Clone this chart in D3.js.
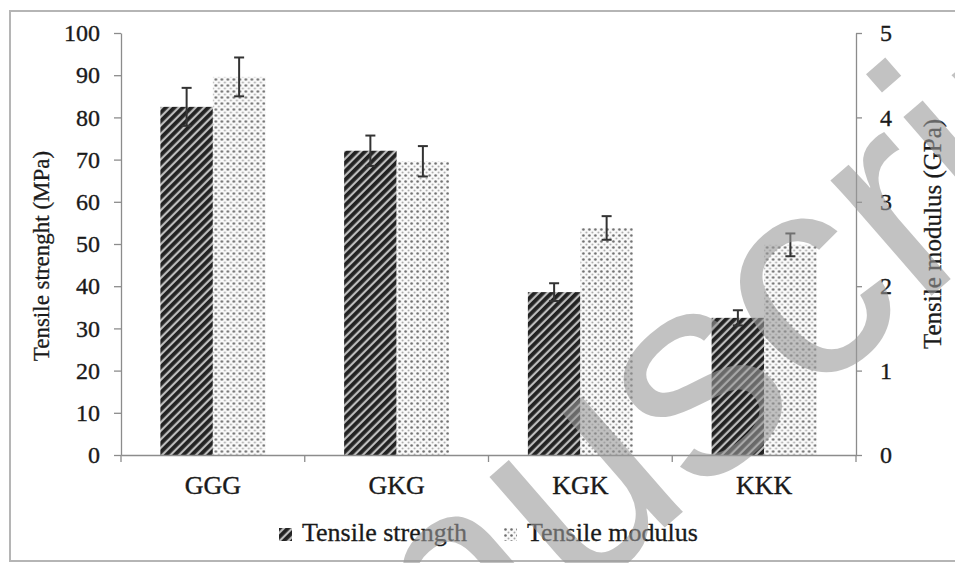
<!DOCTYPE html>
<html>
<head>
<meta charset="utf-8">
<script src="https://cdn.jsdelivr.net/npm/d3@7"></script>
<style>
  body { margin: 0; background: #fff; }
  svg, svg text { font-family: "Liberation Serif", "Times New Roman", Times, "DejaVu Serif", serif; }
</style>
</head>
<body>
<svg id="chart" width="955" height="563"></svg>
<script>
// data
const categories = ["GGG", "GKG", "KGK", "KKK"];
const strength = [82.5, 72.1, 38.6, 32.5];          // MPa
const strengthErr = [4.5, 3.6, 2.1, 1.8];
const modulus = [4.48, 3.48, 2.69, 2.49];           // GPa
const modulusErr = [0.23, 0.18, 0.14, 0.135];
const leftTicks = [0, 10, 20, 30, 40, 50, 60, 70, 80, 90, 100];
const rightTicks = [0, 1, 2, 3, 4, 5];
const seriesNames = ["Tensile strength", "Tensile modulus"];

const FONT = '"Liberation Serif", "Times New Roman", Times, serif';
const INK = '#1a1a1a';
const svg = d3.select('#chart');

const m = { left: 121, right: 99, top: 33, bottom: 108 };
const W = 955, H = 563;
const x0 = m.left, x1 = W - m.right, yTop = m.top, yBot = H - m.bottom;

// frame
svg.append('rect')
    .attr('x', 10).attr('y', 11)
    .attr('width', 980).attr('height', 550)
    .attr('fill', 'none').attr('stroke', '#b5b5b5').attr('stroke-width', 2);

// patterns
const defs = svg.append('defs');
const diag = defs.append('pattern')
    .attr('id', 'diag').attr('patternUnits', 'userSpaceOnUse')
    .attr('width', 6).attr('height', 6)
    .attr('patternTransform', 'rotate(-45)');
diag.append('rect').attr('width', 6).attr('height', 6).attr('fill', '#bdbdbd');
diag.append('rect').attr('width', 6).attr('height', 3.8).attr('fill', '#222');

const dots = defs.append('pattern')
    .attr('id', 'dots').attr('patternUnits', 'userSpaceOnUse')
    .attr('width', 6).attr('height', 6);
dots.append('rect').attr('width', 6).attr('height', 6).attr('fill', '#fafafa');
dots.append('circle').attr('cx', 1.5).attr('cy', 1.5).attr('r', 1.3).attr('fill', '#6e6e6e');
dots.append('circle').attr('cx', 4.5).attr('cy', 4.5).attr('r', 1.0).attr('fill', '#a8a8a8');

// scales
const x = d3.scaleBand().domain(categories).range([x0, x1]).padding(0);
const groupW = x.bandwidth() / 1.75;
const xs = d3.scaleBand().domain([0, 1]).range([0, groupW]);
const yL = d3.scaleLinear().domain([0, 100]).range([yBot, yTop]);
const yR = d3.scaleLinear().domain([0, 5]).range([yBot, yTop]);

const axisColor = '#8c8c8c';

// bars
const groups = svg.append('g').selectAll('g')
    .data(categories)
    .join('g')
    .attr('transform', d => `translate(${x(d) + (x.bandwidth() - groupW) / 2},0)`);

groups.append('rect')
    .attr('x', xs(0)).attr('width', xs.bandwidth())
    .attr('y', (d, i) => yL(strength[i]))
    .attr('height', (d, i) => yBot - yL(strength[i]))
    .attr('fill', 'url(#diag)');

groups.append('rect')
    .attr('x', xs(1)).attr('width', xs.bandwidth())
    .attr('y', (d, i) => yR(modulus[i]))
    .attr('height', (d, i) => yBot - yR(modulus[i]))
    .attr('fill', 'url(#dots)');

// error bars
function errBar(g, cx, yHi, yLo) {
    g.append('line').attr('x1', cx).attr('x2', cx).attr('y1', yHi).attr('y2', yLo);
    g.append('line').attr('x1', cx - 5).attr('x2', cx + 5).attr('y1', yHi).attr('y2', yHi);
    g.append('line').attr('x1', cx - 5).attr('x2', cx + 5).attr('y1', yLo).attr('y2', yLo);
}
groups.each(function (d, i) {
    const g = d3.select(this).append('g').attr('stroke', '#333').attr('stroke-width', 2);
    errBar(g, xs(0) + xs.bandwidth() / 2, yL(strength[i] + strengthErr[i]), yL(strength[i] - strengthErr[i]));
    errBar(g, xs(1) + xs.bandwidth() / 2, yR(modulus[i] + modulusErr[i]), yR(modulus[i] - modulusErr[i]));
});

// left axis
const gL = svg.append('g')
    .attr('transform', `translate(${x0},0)`)
    .call(d3.axisLeft(yL).tickValues(leftTicks).tickSize(7).tickSizeOuter(0).tickPadding(14));
// right axis
const gR = svg.append('g')
    .attr('transform', `translate(${x1},0)`)
    .call(d3.axisRight(yR).tickValues(rightTicks).tickFormat(d3.format('d'))
        .tickSize(6).tickSizeOuter(0).tickPadding(18));
// bottom axis: labels only, ticks at category edges
const gB = svg.append('g')
    .attr('transform', `translate(0,${yBot})`)
    .call(d3.axisBottom(x).tickSize(0).tickPadding(21));
gB.selectAll('line.edge').data(categories.map(c => x(c)).concat([x1]))
    .join('line').attr('class', 'edge')
    .attr('x1', d => d).attr('x2', d => d).attr('y1', 0).attr('y2', 7)
    .attr('stroke', axisColor).attr('stroke-width', 1.3);

[gL, gR, gB].forEach(g => {
    g.attr('font-family', FONT);
    g.selectAll('.domain').attr('stroke', axisColor).attr('stroke-width', 1.3);
    g.selectAll('.tick line').attr('stroke', axisColor).attr('stroke-width', 1.3);
    g.selectAll('text')
        .style('font-family', FONT)
        .attr('font-size', 24).attr('fill', INK)
        .attr('stroke', INK).attr('stroke-width', 0.35);
});
gB.selectAll('.tick text').attr('font-size', 26).attr('dy', '0.71em');

// axis titles
svg.append('text')
    .attr('transform', `translate(49,${(yTop + yBot) / 2 + 12}) rotate(-90)`)
    .attr('text-anchor', 'middle')
    .style('font-family', FONT)
    .attr('font-size', 23).attr('fill', INK)
    .attr('stroke', INK).attr('stroke-width', 0.3)
    .text('Tensile strenght (MPa)');
svg.append('text')
    .attr('transform', `translate(941,${(yTop + yBot) / 2 - 10}) rotate(-90)`)
    .attr('text-anchor', 'middle')
    .style('font-family', FONT)
    .attr('font-size', 25).attr('fill', INK)
    .attr('stroke', INK).attr('stroke-width', 0.3)
    .text('Tensile modulus (GPa)');

// legend
const legend = svg.append('g').attr('transform', 'translate(279,0)');
const legX = [0, 225];
seriesNames.forEach((name, i) => {
    const lg = legend.append('g').attr('transform', `translate(${legX[i]},0)`);
    lg.append('rect').attr('x', 0).attr('y', 528).attr('width', 13).attr('height', 13)
        .attr('fill', i === 0 ? 'url(#diag)' : 'url(#dots)');
    lg.append('text').attr('x', 23).attr('y', 541)
        .style('font-family', FONT)
        .attr('font-size', 26).attr('fill', INK)
        .attr('stroke', INK).attr('stroke-width', 0.3)
        .text(name);
});

// watermark
svg.append('text')
    .attr('transform', 'translate(150,975) rotate(-41)')
    .style('font-family', '"Liberation Sans", Arial, sans-serif')
    .attr('font-size', 290)
    .attr('fill', '#9a9a9a').attr('fill-opacity', 0.6)
    .text('Manuscript');
</script>
</body>
</html>
